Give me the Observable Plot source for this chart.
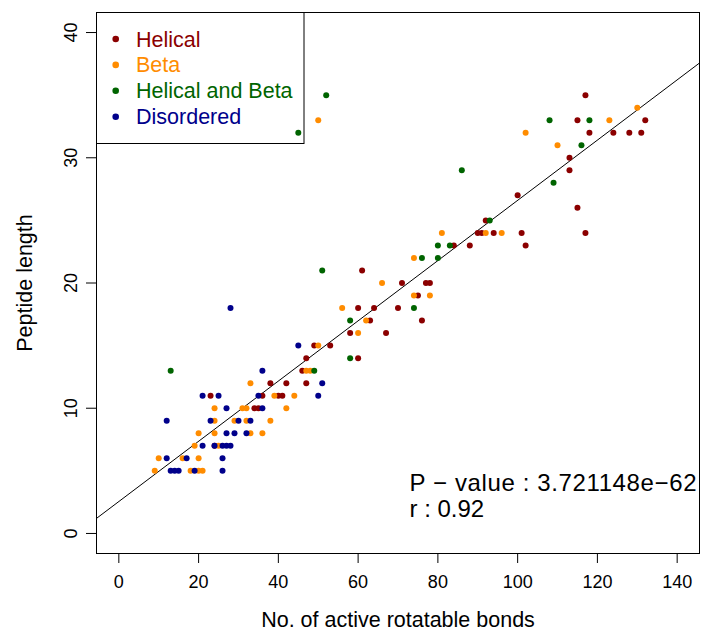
<!DOCTYPE html>
<html><head><meta charset="utf-8">
<script src="https://cdn.jsdelivr.net/npm/d3@7"></script>
<script src="https://cdn.jsdelivr.net/npm/@observablehq/plot@0.6"></script>
<style>
body{margin:0;background:#fff;}
#wrap{position:relative;width:701px;height:638px;}
</style></head><body><div id="wrap"></div>
<script>
const classes = ["Helical", "Beta", "Helical and Beta", "Disordered"];
const classColors = ["#8B0000", "#FF8C00", "#006400", "#00008B"];

const helicalX = [38, 23, 36, 34, 35, 24, 61, 71, 77, 78, 75, 60, 64, 70, 63, 76, 58, 67, 49, 53, 47, 60, 46, 42, 47, 40, 41,
  117, 115, 132, 118, 124, 128, 131, 113, 113, 100, 115, 92, 90, 91, 94, 101, 117, 84, 88, 102];
const helicalY = [12, 11, 11, 10, 10, 7, 21, 20, 20, 20, 19, 18, 18, 18, 17, 17, 16, 16, 15, 15, 14, 14, 13, 12, 12, 11, 11,
  35, 33, 33, 32, 32, 32, 32, 30, 29, 27, 26, 25, 24, 24, 24, 24, 24, 23, 23, 23];

const betaX = [33, 39, 24, 31, 32, 24, 29, 32, 38, 20, 24, 33, 36, 19, 25, 10, 16, 20, 9, 18, 20, 21,
  66, 74, 78, 56, 62, 60, 50, 47, 48, 44, 42, 130, 123, 102, 110, 81, 92, 96, 74, 50];
const betaY = [12, 11, 10, 10, 10, 9, 9, 9, 9, 8, 8, 8, 8, 7, 7, 6, 6, 6, 5, 5, 5, 5,
  20, 19, 19, 18, 17, 16, 15, 13, 13, 11, 10, 34, 33, 32, 31, 24, 24, 24, 22, 33];

const helBetaX = [13, 51, 74, 58, 58, 49, 76, 80, 108, 118, 116, 86, 109, 93, 80, 83, 45, 52];
const helBetaY = [13, 21, 18, 17, 14, 13, 22, 22, 33, 33, 31, 29, 28, 25, 23, 23, 32, 35];

const disorderedX = [28, 36, 21, 25, 35, 36, 27, 12, 23, 30, 33, 27, 29, 32, 21, 24, 26, 27, 28, 12, 17, 26, 13, 14, 15, 19, 26, 45, 51, 50];
const disorderedY = [18, 13, 11, 11, 11, 10, 10, 9, 9, 9, 9, 8, 8, 8, 7, 7, 7, 7, 7, 6, 6, 6, 5, 5, 5, 5, 5, 15, 12, 11];

const xTicks = [0, 20, 40, 60, 80, 100, 120, 140];
const yTicks = [0, 10, 20, 30, 40];
const xDomain = [-5.6, 145.6];
const yDomain = [-1.6, 41.6];
const fitIntercept = 2.55;
const fitSlope = 0.2405;
const statLines = ["P \u2212 value : 3.721148e\u221262", "r : 0.92"];
const xTitle = "No. of active rotatable bonds";
const yTitle = "Peptide length";

const seriesX = [helicalX, betaX, helBetaX, disorderedX];
const seriesY = [helicalY, betaY, helBetaY, disorderedY];
const points = classes.flatMap((c, i) => seriesX[i].map((x, j) => ({x, y: seriesY[i][j], cls: c})));
const fit = xDomain.map(x => ({x, y: fitIntercept + fitSlope * x}));

const FONT = "'Liberation Sans', Arial, Helvetica, sans-serif";

const svg = Plot.plot({
  width: 701, height: 638,
  marginLeft: 96, marginRight: 2, marginTop: 12, marginBottom: 85,
  x: {domain: xDomain},
  y: {domain: yDomain},
  color: {domain: classes, range: classColors},
  style: {fontFamily: FONT, fontSize: "18px", color: "black", background: "white"},
  marks: [
    Plot.axisX({ticks: xTicks, tickSize: 10, tickPadding: 12, fontSize: 18, label: null, tickFormat: d => String(d)}),
    Plot.axisY({ticks: yTicks, tickSize: 10, tickPadding: 10, tickRotate: -90, fontSize: 18, label: null, tickFormat: d => String(d)}),
    Plot.line(fit, {x: "x", y: "y", stroke: "black", strokeWidth: 1}),
    Plot.dot(points, {x: "x", y: "y", fill: "cls", r: 3}),
    Plot.frame({stroke: "black", strokeWidth: 1}),
    Plot.text([xTitle], {text: d => d, frameAnchor: "bottom", textAnchor: "middle", dy: 73, fontSize: 21.5}),
    Plot.text([yTitle], {text: d => d, frameAnchor: "left", textAnchor: "middle", rotate: -90, dx: -71, fontSize: 21.5}),
    Plot.text([statLines.join("\n")], {text: d => d, frameAnchor: "top-left", textAnchor: "start", lineAnchor: "top", dx: 313, dy: 461, fontSize: 24, lineHeight: 1.05})
  ]
});

// widen the first statistics line to the reference's plotmath spacing
d3.select(svg).selectAll("tspan").each(function() {
  if (this.textContent === statLines[0]) {
    d3.select(this).attr("textLength", 287).attr("lengthAdjust", "spacing");
  }
});

// legend box (top-left, inside the plot frame; transparent background like R's default)
const g = d3.select(svg).append("g").attr("font-family", FONT).attr("text-anchor", "start");
g.append("rect").attr("x", 96.5).attr("y", 12.5).attr("width", 207.5).attr("height", 131)
  .attr("fill", "none").attr("stroke", "black");
classes.forEach((c, i) => {
  const cy = 39 + i * 25.9;
  g.append("circle").attr("cx", 115.7).attr("cy", cy).attr("r", 3.3).attr("fill", classColors[i]);
  g.append("text").attr("x", 136).attr("y", cy).attr("dy", "0.35em").attr("font-size", 21.5)
    .attr("text-anchor", "start").attr("fill", classColors[i]).text(c);
});

document.getElementById("wrap").appendChild(svg);
</script></body></html>
